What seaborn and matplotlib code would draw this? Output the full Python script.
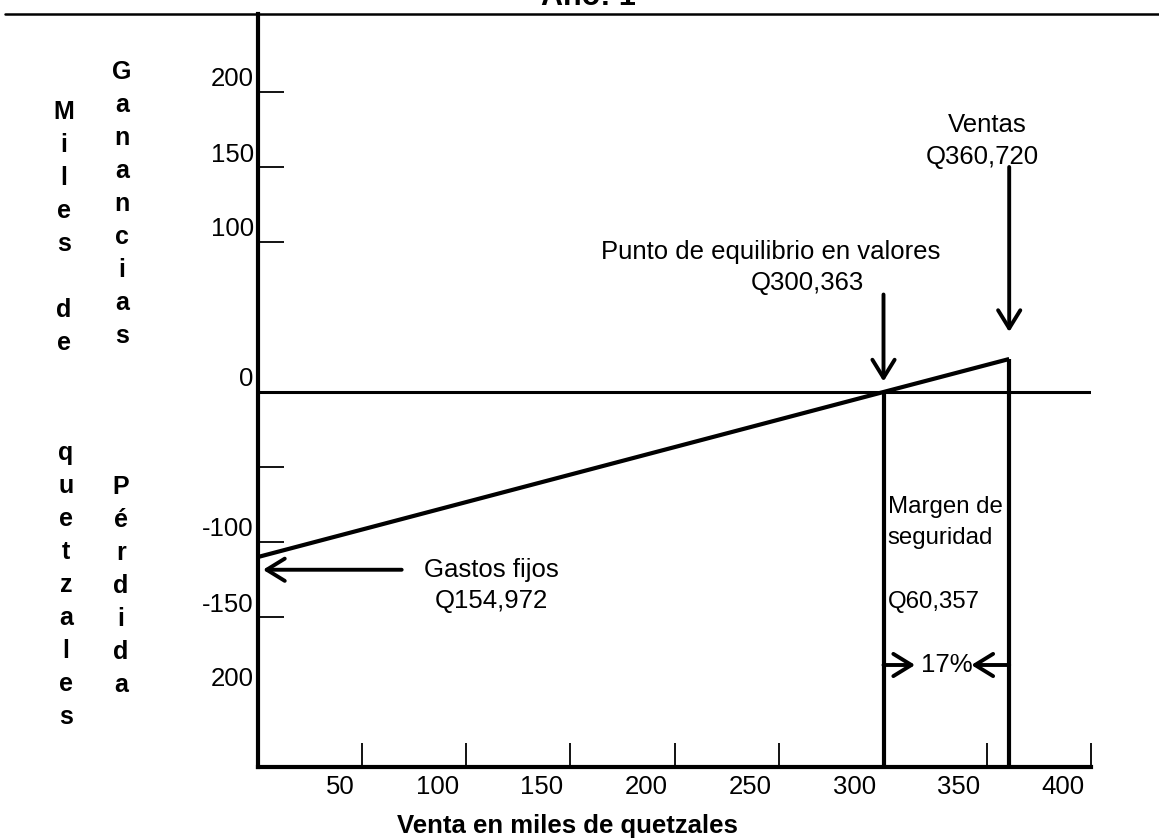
import numpy as np
import pandas as pd
import matplotlib
matplotlib.use("Agg")
import matplotlib.pyplot as plt
import seaborn as sns
from matplotlib.transforms import ScaledTranslation
from matplotlib.lines import Line2D

# ---------------- data ----------------
x_ticks = [50, 100, 150, 200, 250, 300, 350, 400]
x_tick_labels = ["50", "100", "150", "200", "250", "300", "350", "400"]
y_ticks = [200, 150, 100, 0, -50, -100, -150, -200]
y_tick_labels = ["200", "150", "100", "0", "", "-100", "-150", "200"]

line_sales = [0, 300.363, 360.72]      # miles de quetzales
line_result = [-110, 0, 22]            # ganancia / pérdida (as drawn)
breakeven = 300.363
sales = 360.72

title = "Año: 1"
x_label = "Venta en miles de quetzales"
col1_top, col1_bottom = "Miles de", "quetzales"
col2_top, col2_bottom = "Ganancias", "Pérdida"

# ---------------- style ----------------
sns.set_theme(style="white")
plt.rcParams["font.family"] = ["Liberation Sans", "DejaVu Sans"]

W, H = 1159, 838
fig = plt.figure(figsize=(W / 100, H / 100), dpi=100)
fig.patch.set_facecolor("white")
ax = fig.add_axes([258 / W, 1 - 767 / H, 833 / W, 753 / H])
ax.set_facecolor("white")

df = pd.DataFrame({"venta": line_sales, "resultado": line_result})
sns.lineplot(data=df, x="venta", y="resultado", ax=ax, color="black",
             lw=3, solid_capstyle="butt", sort=False)

ax.set_xlim(0, 400)
ax.set_ylim(-250, 252)
ymin = ax.get_ylim()[0]

ax.axhline(0, color="black", lw=2.2)
ax.vlines(breakeven, ymin, 0, color="black", lw=3)
ax.vlines(sales, ymin, line_result[-1], color="black", lw=3)

for s in ["top", "right"]:
    ax.spines[s].set_visible(False)
for s in ["left", "bottom"]:
    ax.spines[s].set_linewidth(3)
    ax.spines[s].set_color("black")

ax.set_xticks(x_ticks)
ax.set_xticklabels(x_tick_labels)
ax.set_yticks(y_ticks)
ax.set_yticklabels(y_tick_labels)
ax.tick_params(axis="x", bottom=True, direction="in", length=17, width=1.3,
               color="black", pad=6, labelsize=18.5, labelcolor="black")
ax.tick_params(axis="y", left=True, direction="in", length=19, width=1.3,
               color="black", pad=3, labelsize=18.5, labelcolor="black")
yt = ax.yaxis.get_major_ticks()
yt[3].tick1line.set_visible(False)
yt[7].tick1line.set_visible(False)

for lab in ax.get_yticklabels():
    lab.set_transform(lab.get_transform() + ScaledTranslation(0, 0.15, fig.dpi_scale_trans))
for lab in ax.get_xticklabels():
    lab.set_ha("right")
    lab.set_transform(lab.get_transform() + ScaledTranslation(-0.07, 0, fig.dpi_scale_trans))

ax.set_xlabel(x_label, fontsize=18.5, fontweight="bold", color="black")
ax.xaxis.label.set_va("center")
ax.xaxis.set_label_coords(0.372, -0.078)
ax.set_ylabel("")

# ---------------- annotations ----------------
fs = 18.5
arrow = dict(arrowstyle="->,head_length=0.65,head_width=0.4", lw=2.8,
             color="black", shrinkA=0, shrinkB=0, mutation_scale=20)

ax.text(246, 93.3, "Punto de equilibrio en valores", ha="center", va="center", fontsize=fs, color="black")
ax.text(264, 72.7, "Q300,363", ha="center", va="center", fontsize=fs, color="black")
ax.annotate("", xy=(breakeven, 7), xytext=(breakeven, 65), arrowprops=arrow)

ax.text(350, 178, "Ventas", ha="center", va="center", fontsize=fs, color="black")
ax.text(348, 156.7, "Q360,720", ha="center", va="center", fontsize=fs, color="black")
ax.annotate("", xy=(sales, 40), xytext=(sales, 150), arrowprops=arrow)

ax.text(112, -118.7, "Gastos fijos", ha="center", va="center", fontsize=fs, color="black")
ax.text(112, -139.3, "Q154,972", ha="center", va="center", fontsize=fs, color="black")
ax.annotate("", xy=(2.4, -118.5), xytext=(69, -118.5), arrowprops=arrow)

for txt, yv in [("Margen de", -76.7), ("seguridad", -97.3), ("Q60,357", -140)]:
    ax.annotate(txt, xy=(breakeven, yv), xytext=(3, 0), textcoords="offset points",
                ha="left", va="center", fontsize=17.3, color="black")

mid = (breakeven + sales) / 2
ax.text(mid, -182, "17%", ha="center", va="center", fontsize=fs, color="black")
ax.annotate("", xy=(mid - 15, -182), xytext=(breakeven, -182), arrowprops=arrow)
ax.annotate("", xy=(mid + 12, -182), xytext=(sales, -182), arrowprops=arrow)

# vertical letter columns
def column(word, x_px, y0_px, step=33):
    for i, ch in enumerate(word):
        if ch.strip():
            fig.text(x_px / W, 1 - (y0_px + i * step) / H, ch, ha="center", va="center",
                     fontsize=18, fontweight="bold", color="black")

column(col1_top, 64, 112)
column(col1_bottom, 66, 453)
column(col2_top, 122, 72)
column(col2_bottom, 121, 487)

# title and top rule
fig.text(588 / W, 1 - 5 / H, title, ha="center", va="baseline", fontsize=22,
         fontweight="bold", color="black")
fig.add_artist(Line2D([5 / W, 1.0], [1 - 14 / H, 1 - 14 / H], color="black", lw=1.8))

fig.savefig("out.png", dpi=100, facecolor="white")
